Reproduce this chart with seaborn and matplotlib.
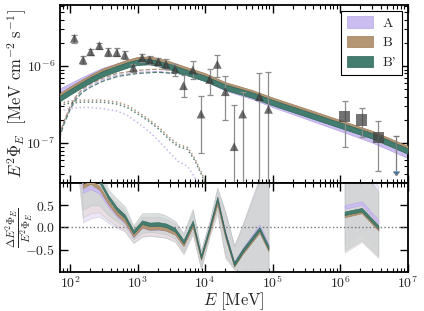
import numpy as np
import pandas as pd
import matplotlib
matplotlib.use('Agg')
import matplotlib.pyplot as plt
import matplotlib.patches as mpatches
import seaborn as sns

# --- measured spectrum (triangles) ---
tri_e = [116, 156, 202, 272, 370, 492, 648, 870, 1170, 1520, 2030, 2640, 3590, 4800,
         6580, 8720, 11700, 15200, 20000, 27000, 36000, 64000, 87000]
tri_flux = [2.29e-6, 1.20e-6, 1.53e-6, 1.84e-6, 1.51e-6, 1.49e-6, 1.39e-6, 9.5e-7, 1.28e-6,
            1.20e-6, 1.14e-6, 1.05e-6, 9.1e-7, 5.55e-7, 8.87e-7, 2.38e-7, 6.7e-7, 1.05e-6,
            4.64e-7, 8.97e-8, 2.38e-7, 4.0e-7, 2.74e-7]
tri_hi = [2.53e-6, 1.35e-6, 1.68e-6, 2.01e-6, 1.70e-6, 1.69e-6, 1.57e-6, 1.07e-6, 1.45e-6,
          1.35e-6, 1.28e-6, 1.22e-6, 1.06e-6, 7.64e-7, 1.16e-6, 4.07e-7, 9.06e-7, 1.39e-6,
          7.48e-7, 3.12e-7, 4.64e-7, 8.04e-7, 8.43e-7]
tri_lo = [2.01e-6, 1.06e-6, 1.40e-6, 1.68e-6, 1.34e-6, 1.33e-6, 1.23e-6, 8.4e-7, 1.14e-6,
          1.06e-6, 1.01e-6, 9.06e-7, 7.41e-7, 4.0e-7, 6.78e-7, 7.41e-8, 4.2e-7, 7.2e-7,
          1.99e-7, 1e-9, 1e-9, 1e-9, 1e-9]

# --- measured spectrum (squares) ---
sq_e = [1.17e6, 2.1e6, 3.7e6]
sq_flux = [2.24e-7, 1.99e-7, 1.17e-7]
sq_hi = [3.54e-7, 2.87e-7, 1.93e-7]
sq_lo = [8.96e-8, 1.21e-7, 4.33e-8]

# --- upper limit ---
ul_e = [6.7e6]
ul_flux = [1.23e-7]

# --- model totals ---
e_model = [71, 100, 150, 200, 300, 500, 700, 1000, 1500, 2000, 3000, 5000, 1e4, 2e4,
           5e4, 1e5, 3e5, 1e6, 3e6, 1e7]
flux_Bp = [3.8e-7, 4.6e-7, 5.7e-7, 6.6e-7, 7.9e-7, 9.3e-7, 1.03e-6, 1.12e-6, 1.14e-6,
           1.08e-6, 9.8e-7, 8.4e-7, 6.9e-7, 5.3e-7, 4.2e-7, 3.35e-7, 2.43e-7, 1.71e-7,
           1.24e-7, 7.9e-8]
flux_B = [4.1e-7, 5.0e-7, 6.15e-7, 7.1e-7, 8.5e-7, 1.0e-6, 1.11e-6, 1.21e-6, 1.23e-6,
          1.17e-6, 1.06e-6, 9.1e-7, 7.45e-7, 5.7e-7, 4.5e-7, 3.6e-7, 2.62e-7, 1.84e-7,
          1.33e-7, 8.5e-8]
flux_A = [4.75e-7, 5.5e-7, 6.6e-7, 7.45e-7, 8.7e-7, 1.0e-6, 1.1e-6, 1.19e-6, 1.2e-6,
          1.12e-6, 1.01e-6, 8.5e-7, 6.9e-7, 5.2e-7, 4.03e-7, 3.18e-7, 2.26e-7, 1.56e-7,
          1.1e-7, 6.95e-8]

# --- dashed components ---
e_dash = [70, 80, 100, 120, 150, 200, 300, 500, 1000, 2000, 5000, 1e4, 1e5, 1e6, 1e7]
dash_Bp = [1.15e-7, 1.7e-7, 2.7e-7, 3.6e-7, 4.5e-7, 5.3e-7, 6.3e-7, 7.3e-7, 8.0e-7,
           8.3e-7, 7.8e-7, 6.6e-7, 3.2e-7, 1.65e-7, 7.6e-8]
dash_B = [1.25e-7, 1.85e-7, 2.95e-7, 3.95e-7, 4.95e-7, 5.85e-7, 6.9e-7, 8.0e-7, 8.8e-7,
          9.1e-7, 8.5e-7, 7.1e-7, 3.45e-7, 1.78e-7, 8.2e-8]
dash_A = [1.2e-7, 1.8e-7, 2.85e-7, 3.8e-7, 4.7e-7, 5.55e-7, 6.6e-7, 7.6e-7, 8.3e-7,
          8.5e-7, 7.9e-7, 6.5e-7, 3.05e-7, 1.52e-7, 6.8e-8]

# --- dotted components ---
e_dot = [70, 100, 150, 200, 300, 500, 700, 1000, 1500, 2000, 3000, 4000, 5500, 7000,
         9000, 11000]
dot_Bp = [3.1e-7, 3.3e-7, 3.4e-7, 3.4e-7, 3.4e-7, 3.2e-7, 2.9e-7, 2.4e-7, 1.9e-7,
          1.55e-7, 1.1e-7, 9.0e-8, 8.3e-8, 6.0e-8, 3.8e-8, 2.5e-8]
dot_B = [3.3e-7, 3.5e-7, 3.6e-7, 3.6e-7, 3.6e-7, 3.4e-7, 3.1e-7, 2.55e-7, 2.0e-7,
         1.65e-7, 1.17e-7, 9.6e-8, 8.8e-8, 6.4e-8, 4.0e-8, 2.6e-8]
dot_A = [2.6e-7, 2.8e-7, 2.9e-7, 2.9e-7, 2.8e-7, 2.6e-7, 2.3e-7, 1.85e-7, 1.4e-7,
         1.1e-7, 7.5e-8, 5.8e-8, 5.0e-8, 3.6e-8, 2.5e-8, 1.8e-8]

# --- residuals at the data energies (triangles then squares) ---
res_Bp = [3.6, 1.1, 1.2, 1.05, 0.68, 0.42, 0.25, -0.1, 0.12, 0.07, 0.08, 0.05, -0.05,
          -0.32, 0.12, -0.66, 0.0, 0.65, -0.15, -0.82, -0.52, -0.03, -0.45,
          0.32, 0.4, 0.01]
res_B = [3.3, 0.93, 1.02, 0.89, 0.56, 0.32, 0.16, -0.17, 0.04, -0.01, 0.0, -0.03, -0.12,
         -0.38, 0.05, -0.69, -0.06, 0.55, -0.2, -0.84, -0.56, -0.08, -0.49,
         0.27, 0.36, -0.03]
res_A = [3.0, 0.82, 0.9, 0.8, 0.5, 0.28, 0.13, -0.18, 0.03, -0.02, -0.01, -0.03, -0.11,
         -0.36, 0.07, -0.66, 0.0, 0.62, -0.13, -0.8, -0.5, 0.03, -0.4,
         0.46, 0.55, 0.13]
res_err_lo = [1.0, 0.7, 0.7, 0.55, 0.4, 0.28, 0.22, 0.17, 0.24, 0.17, 0.2, 0.2, 0.2,
              0.22, 0.2, 0.25, 0.15, 0.25, 0.49, 0.1, 0.5, 1.0, 0.6,
              0.83, 0.68, 0.65]
res_err_hi = [1.0, 0.5, 0.4, 0.4, 0.17, 0.23, 0.23, 0.15, 0.2, 0.25, 0.25, 0.22, 0.2,
              0.2, 0.3, 0.15, 0.15, 0.25, 0.49, 0.4, 0.57, 1.1, 1.5,
              1.0, 0.9, 0.8]

labels = ['A', 'B', "B'"]
colors = {'A': '#cbbdf0', 'B': '#b59674', "B'": '#437d70'}
edges = {'A': '#b7a6e6', 'B': '#9c7b5a', "B'": '#2f6357'}
light = {'A': '#e4dcf6', 'B': '#e6dada', "B'": '#cdd2d2'}

sns.set_style('ticks', {'xtick.direction': 'in', 'ytick.direction': 'in'})
plt.rcParams['font.family'] = 'cmr10'
plt.rcParams['mathtext.fontset'] = 'cm'
plt.rcParams['axes.unicode_minus'] = False
plt.rcParams['axes.formatter.use_mathtext'] = True

fig = plt.figure(figsize=(4.24, 3.11), dpi=100)
ax1 = fig.add_axes([0.1415, 0.4116, 0.8196, 0.5724])
ax2 = fig.add_axes([0.1415, 0.1254, 0.8196, 0.2862], sharex=ax1)

band_dex = 0.035
model_flux = {'A': flux_A, 'B': flux_B, "B'": flux_Bp}
dash_flux = {'A': dash_A, 'B': dash_B, "B'": dash_Bp}
dot_flux = {'A': dot_A, 'B': dot_B, "B'": dot_Bp}

# components
for name in labels:
    sns.lineplot(x=e_dash, y=dash_flux[name], ax=ax1, color=edges[name], ls='--',
                 lw=0.9, alpha=0.8, zorder=1)
    sns.lineplot(x=e_dot, y=dot_flux[name], ax=ax1, color=edges[name], ls=':',
                 lw=1.1, alpha=0.8, zorder=1)

# model bands
for i, name in enumerate(labels):
    f = np.array(model_flux[name])
    ax1.fill_between(e_model, f * 10**-band_dex, f * 10**band_dex, facecolor=colors[name],
                     edgecolor=edges[name], lw=0.5, zorder=2 + i)

# data
ax1.errorbar(tri_e, tri_flux,
             yerr=[np.array(tri_flux) - np.array(tri_lo), np.array(tri_hi) - np.array(tri_flux)],
             fmt='none', ecolor='#8c8c8c', elinewidth=0.9, capsize=2, capthick=0.9, zorder=6)
ax1.errorbar(sq_e, sq_flux,
             yerr=[np.array(sq_flux) - np.array(sq_lo), np.array(sq_hi) - np.array(sq_flux)],
             fmt='none', ecolor='#8c8c8c', elinewidth=0.9, capsize=2, capthick=0.9, zorder=6)
ax1.errorbar(ul_e, ul_flux, yerr=np.array(ul_flux) * 0.65, uplims=True, fmt='none',
             ecolor='#7a7a7a', elinewidth=0.9, capsize=2, zorder=6)
sns.scatterplot(x=tri_e, y=tri_flux, ax=ax1, marker='^', s=40, color='#333333',
                alpha=0.7, edgecolor='none', zorder=7)
sns.scatterplot(x=sq_e, y=sq_flux, ax=ax1, marker='s', s=64, color='#444444',
                alpha=0.75, edgecolor='none', zorder=7)

ax1.set_xscale('log')
ax1.set_yscale('log')
ax1.set_xlim(71, 1e7)
ax1.set_ylim(3.03e-8, 6.2e-6)
ax1.set_ylabel(r'$E^2\Phi_E\ \ [\mathrm{MeV\ cm^{-2}\ s^{-1}}]$', fontsize=12)
ax1.yaxis.set_label_coords(-0.09, 0.5)

handles = [mpatches.Patch(facecolor=colors[n], edgecolor=edges[n], lw=0.5, label=n)
           for n in labels]
leg = ax1.legend(handles=handles, loc='upper right', fontsize=10, frameon=True,
                 fancybox=False, edgecolor='black', framealpha=1, handlelength=1.9,
                 handleheight=0.9, borderaxespad=0.4, labelspacing=0.45,
                 handletextpad=0.7)
leg.get_frame().set_linewidth(0.8)

# residual panel
n_tri = len(tri_e)
res_e = tri_e + sq_e
res = {'A': res_A, 'B': res_B, "B'": res_Bp}
segments = [slice(0, n_tri), slice(n_tri, len(res_e))]
inner = 0.04
for seg in segments:
    e = np.array(res_e[seg])
    for name in labels:
        r = np.array(res[name][seg])
        ax2.fill_between(e, r - np.array(res_err_lo[seg]), r + np.array(res_err_hi[seg]),
                         facecolor=light[name], edgecolor='#b8bcbc', lw=0.4, alpha=0.7,
                         zorder=1)
for seg in segments:
    e = np.array(res_e[seg])
    for i, name in enumerate(labels):
        r = np.array(res[name][seg])
        ax2.fill_between(e, r - inner, r + inner, facecolor=colors[name],
                         edgecolor=edges[name], lw=0.4, zorder=3 + i)
ax2.axhline(0, color='#777777', ls=':', lw=1, zorder=2)

ax2.set_ylim(-1, 1)
ax2.set_yticks([-0.5, 0.0, 0.5])
ax2.set_xlabel(r'$E\ [\mathrm{MeV}]$', fontsize=12)
ax2.xaxis.set_label_coords(0.5, -0.2)
ax2.set_ylabel(r'$\dfrac{\Delta E^2\Phi_E}{E^2\Phi_E}$', fontsize=8)
ax2.yaxis.set_label_coords(-0.072, 0.5)

for ax in (ax1, ax2):
    ax.tick_params(which='both', direction='in', top=True, right=True, labelsize=10,
                   color='black')
    ax.tick_params(which='major', length=6, width=1)
    ax.tick_params(which='minor', length=3, width=0.8)
    for s in ax.spines.values():
        s.set_linewidth(1.3)
        s.set_color('black')
ax1.tick_params(labelbottom=False)
ax2.tick_params(axis='x', pad=2)

fig.savefig('out.png', dpi=100)
